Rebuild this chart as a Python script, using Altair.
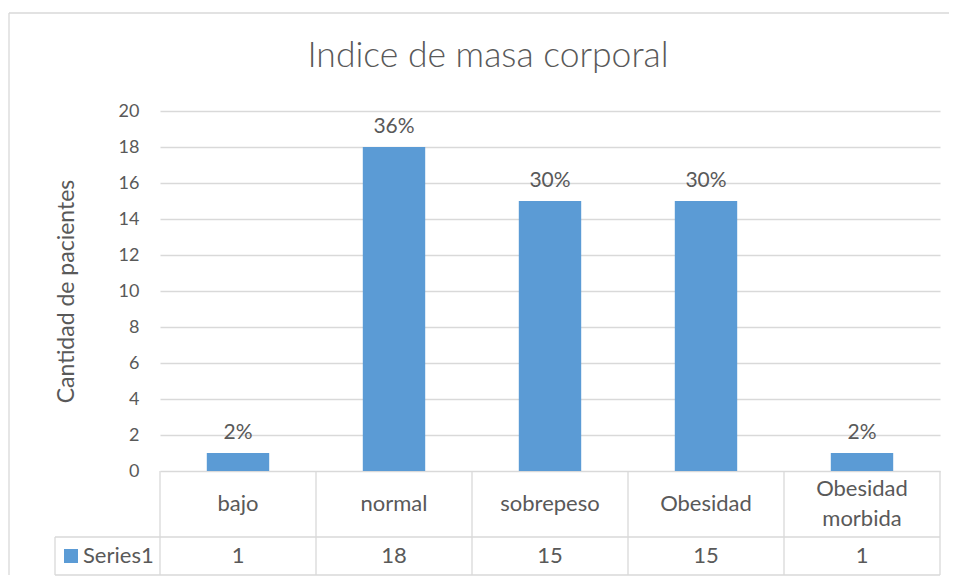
import altair as alt
import pandas as pd

categories = ["bajo", "normal", "sobrepeso", "Obesidad", "Obesidad\nmorbida"]
values = [1, 18, 15, 15, 1]
pct_labels = ["2%", "36%", "30%", "30%", "2%"]
y_ticks = [0, 2, 4, 6, 8, 10, 12, 14, 16, 18, 20]
series_name = "Series1"
title_text = "Indice de masa corporal"
y_title = "Cantidad de pacientes"

df = pd.DataFrame({
    "cat": categories,
    "value": values,
    "pct": pct_labels,
    "value_str": [str(v) for v in values],
})
one = pd.DataFrame({"name": [series_name], "title": [title_text]})

W, H = 780, 360
FONT = "Lato"
TXT = "#595959"
GRID = "#d9d9d9"
BAR = "#5B9BD5"
TBL = 22

x = alt.X("cat:N", sort=categories, scale=alt.Scale(paddingInner=0, paddingOuter=0), axis=None)
x_edge = alt.X("cat:N", sort=categories, bandPosition=0, axis=None)
y = alt.Y(
    "value:Q",
    scale=alt.Scale(domain=[0, 20]),
    axis=alt.Axis(
        values=y_ticks, title=y_title, grid=True, gridColor=GRID, gridWidth=1.3,
        domain=False, ticks=False, labelFontSize=18, labelColor=TXT, labelFont=FONT,
        labelPadding=21, titleFont=FONT, titleFontSize=23, titleFontWeight="normal",
        titleColor=TXT, titlePadding=40,
    ),
)

bars = alt.Chart(df).mark_bar(width={"band": 0.4}, color=BAR).encode(x=x, y=y)
pct = alt.Chart(df).mark_text(dy=-10, baseline="bottom", fontSize=21, font=FONT, color=TXT).encode(
    x=x, y=y, text="pct:N"
)

# data table below the plot
cat_single = alt.Chart(df).transform_filter("indexof(datum.cat, '\\n') < 0").mark_text(
    fontSize=TBL, font=FONT, color=TXT, baseline="middle"
).encode(x=x, y=alt.value(393), text="cat:N")
cat_multi = alt.Chart(df).transform_filter("indexof(datum.cat, '\\n') >= 0").mark_text(
    lineBreak="\n", fontSize=TBL, font=FONT, color=TXT, lineHeight=30, baseline="middle"
).encode(x=x, y=alt.value(378), text="cat:N")
val_text = alt.Chart(df).mark_text(fontSize=TBL, font=FONT, color=TXT, baseline="middle").encode(
    x=x, y=alt.value(445), text="value_str:N"
)
vlines = alt.Chart(df).mark_rule(color=GRID, strokeWidth=1.3).encode(
    x=x_edge, y=alt.value(360), y2=alt.value(464)
)
rules = [
    alt.Chart(one).mark_rule(color=GRID, strokeWidth=1.3).encode(x=alt.value(W), y=alt.value(360), y2=alt.value(464)),
    alt.Chart(one).mark_rule(color=GRID, strokeWidth=1.3).encode(x=alt.value(-105), x2=alt.value(W), y=alt.value(426)),
    alt.Chart(one).mark_rule(color=GRID, strokeWidth=1.3).encode(x=alt.value(-105), x2=alt.value(W), y=alt.value(464)),
    alt.Chart(one).mark_rule(color=GRID, strokeWidth=1.3).encode(x=alt.value(-105), y=alt.value(426), y2=alt.value(464)),
    # outer chart border
    alt.Chart(one).mark_rule(color=GRID, strokeWidth=1.3).encode(x=alt.value(-151), x2=alt.value(789), y=alt.value(-98)),
    alt.Chart(one).mark_rule(color=GRID, strokeWidth=1.3).encode(x=alt.value(-151), y=alt.value(-98), y2=alt.value(464)),
]
swatch = alt.Chart(one).mark_square(size=196, color=BAR, opacity=1).encode(x=alt.value(-89), y=alt.value(445))
series_text = alt.Chart(one).mark_text(align="left", baseline="middle", fontSize=TBL, font=FONT, color=TXT).encode(
    x=alt.value(-77), y=alt.value(445), text="name:N"
)
title = alt.Chart(one).mark_text(baseline="middle", fontSize=35.5, font=FONT, fontWeight=300, color=TXT).encode(
    x=alt.value(328), y=alt.value(-55), text="title:N"
)

chart = alt.layer(
    bars, pct, vlines, *rules, cat_single, cat_multi, val_text, swatch, series_text, title
).properties(
    width=W, height=H, padding={"left": 0, "top": 4, "right": 0, "bottom": 0}
).configure_view(stroke=None)

chart.save("out.html", embed_options={"renderer": "svg", "actions": False})
